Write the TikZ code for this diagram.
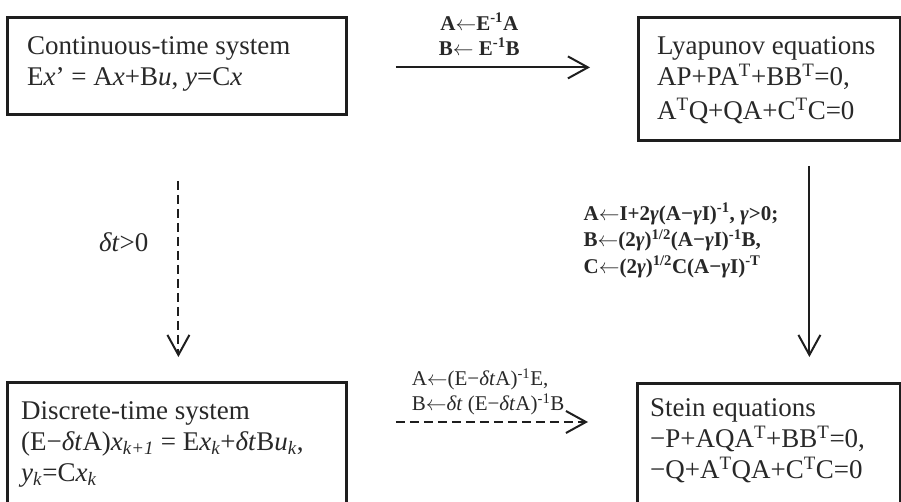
\documentclass[tikz,border=0pt]{standalone}
\usepackage{fontspec}
\setmainfont{Liberation Serif}
\usetikzlibrary{arrows.meta,positioning}
\definecolor{pencil}{RGB}{30,30,30}
\definecolor{lead}{RGB}{40,40,40}
\newcommand{\takes}{$\leftarrow$}

\begin{document}
\begin{tikzpicture}[x=1pt,y=-1pt,
    frame/.style={draw=pencil,line width=2.8pt,anchor=north west,inner sep=0pt},
    body/.style={anchor=north west,align=left,text=lead,inner sep=0pt,font=\fontsize{27}{31}\selectfont},
    rule/.style={align=left,text=lead,inner sep=0pt,font=\fontsize{21}{25}\selectfont},
    arr/.style={draw=pencil,line width=2pt,-{Straight Barb[length=20pt,width=22pt,line width=2pt]}},
    dashline/.style={dash pattern=on 9pt off 5pt}]
  \useasboundingbox (0,0) rectangle (901,502);
  \clip (0,0) rectangle (901,502);
  % the four boxes
  \node[frame,minimum width=339pt,minimum height=97pt] (ct) at (6,16) {};
  \node[frame,minimum width=262pt,minimum height=123pt] (lyap) at (637,16) {};
  \node[frame,minimum width=339pt,minimum height=140pt] (dts) at (6,381) {};
  \node[frame,minimum width=263pt,minimum height=140pt] (stein) at (636,382) {};
  \node[body] (ct-txt) at ([xshift=21pt,yshift=-20pt]ct.north west)
    {Continuous-time system\\E\textit{x}’ = A\textit{x}+B\textit{u}, \textit{y}=C\textit{x}};
  \node[body] (lyap-txt) at ([xshift=20pt,yshift=-20pt]lyap.north west)
    {Lyapunov equations\\AP+PA\textsuperscript{T}+BB\textsuperscript{T}=0,\\[3pt]A\textsuperscript{T}Q+QA+C\textsuperscript{T}C=0};
  \node[body] (dts-txt) at ([xshift=15pt,yshift=-20pt]dts.north west)
    {Discrete-time system\\(E−\textit{δt}A)\textit{x}\textsubscript{\textit{k+1}} = E\textit{x}\textsubscript{\textit{k}}+\textit{δt}B\textit{u}\textsubscript{\textit{k}},\\\textit{y}\textsubscript{\textit{k}}=C\textit{x}\textsubscript{\textit{k}}};
  \node[body] (stein-txt) at ([xshift=14pt,yshift=-16pt]stein.north west)
    {Stein equations\\−P+AQA\textsuperscript{T}+BB\textsuperscript{T}=0,\\−Q+A\textsuperscript{T}QA+C\textsuperscript{T}C=0};
  % connectors
  \draw[arr] ([xshift=48pt,yshift=-1.5pt]ct.east) -- ([xshift=-47pt,yshift=-1.5pt]ct.east -| lyap.west)
    node[pos=0.43,above=11pt,rule,align=center,font=\bfseries\fontsize{21}{25}\selectfont] (top-lbl)
    {A\takes E\textsuperscript{-1}A\\B\takes\ E\textsuperscript{-1}B};
  \draw[arr,dashline] ([yshift=-65pt,xshift=1.5pt]ct.south) -- ([yshift=24pt,xshift=1.5pt]ct.south |- dts.north)
    node[pos=0.35,left=29pt,body,anchor=east] (dt-lbl) {\textit{δt}>0};
  \draw[arr] ([xshift=40pt,yshift=-24pt]lyap.south) -- ([xshift=40pt,yshift=25pt]lyap.south |- stein.north)
    node[pos=0.39,left=30pt,rule,font=\bfseries\fontsize{21}{26.5}\selectfont] (right-lbl)
    {A\takes I+2\textit{γ}(A−\textit{γ}I)\textsuperscript{-1}, \textit{γ}>0;\\B\takes(2\textit{γ})\textsuperscript{1/2}(A−\textit{γ}I)\textsuperscript{-1}B,\\C\takes(2\textit{γ})\textsuperscript{1/2}C(A−\textit{γ}I)\textsuperscript{-T}};
  \draw[arr,dashline] ([xshift=48pt,yshift=-41pt]dts.north east) -- ([xshift=-48pt,yshift=-41pt]dts.north east -| stein.west)
    node[pos=0.48,above=6pt,rule] (bottom-lbl)
    {A\takes(E−\textit{δt}A)\textsuperscript{-1}E,\\B\takes\textit{δt} (E−\textit{δt}A)\textsuperscript{-1}B};
\end{tikzpicture}
\end{document}
